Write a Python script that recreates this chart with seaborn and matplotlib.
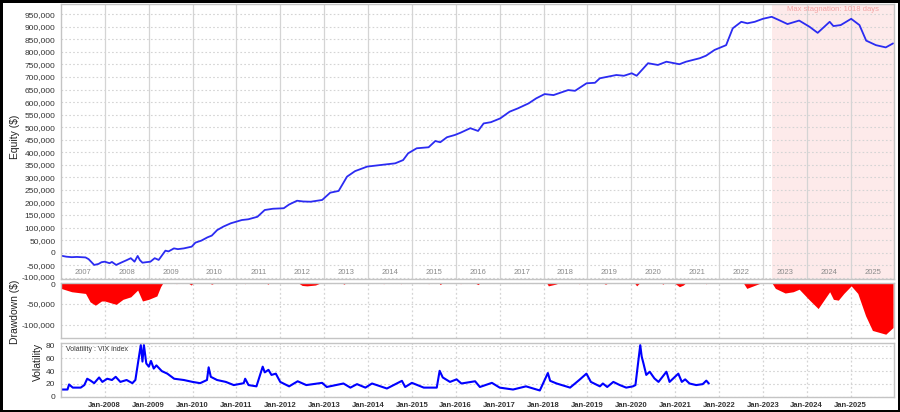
# Equity / drawdown / VIX panel chart
import matplotlib
matplotlib.use('Agg')
import matplotlib.pyplot as plt
import matplotlib.dates as mdates
import matplotlib.transforms as mtransforms
from matplotlib.ticker import FuncFormatter
import pandas as pd
import seaborn as sns

sns.set_style('white')
plt.rcParams['font.family'] = ['Liberation Sans', 'DejaVu Sans']

# ===== Data =====

equity_dates = [
    "2007-01-02", "2007-02-15", "2007-04-01", "2007-05-15", "2007-07-25", "2007-08-20",
    "2007-10-05", "2007-11-10", "2007-12-05", "2008-01-01", "2008-02-10", "2008-03-01",
    "2008-04-05", "2008-05-15", "2008-07-01", "2008-08-05", "2008-09-05", "2008-10-01",
    "2008-10-20", "2008-11-10", "2008-12-10", "2009-01-15", "2009-02-20", "2009-03-25",
    "2009-05-20", "2009-06-15", "2009-07-30", "2009-09-01", "2009-10-20", "2009-12-25",
    "2010-01-25", "2010-03-15", "2010-05-05", "2010-06-10", "2010-07-25", "2010-09-15",
    "2010-11-15", "2011-02-15", "2011-04-10", "2011-06-25", "2011-08-25", "2011-11-01",
    "2012-01-30", "2012-03-15", "2012-05-20", "2012-07-10", "2012-09-10", "2012-12-15",
    "2013-02-20", "2013-05-01", "2013-07-10", "2013-09-15", "2013-12-25", "2014-04-10",
    "2014-08-15", "2014-10-20", "2014-12-01", "2015-02-10", "2015-05-20", "2015-07-15",
    "2015-08-25", "2015-10-20", "2015-12-25", "2016-02-10", "2016-05-01", "2016-07-05",
    "2016-08-20", "2016-10-20", "2017-01-05", "2017-03-25", "2017-06-01", "2017-08-30",
    "2017-11-01", "2018-01-10", "2018-03-25", "2018-07-25", "2018-09-20", "2018-12-25",
    "2019-03-05", "2019-04-15", "2019-08-30", "2019-11-01", "2020-01-05", "2020-02-15",
    "2020-05-20", "2020-08-10", "2020-10-20", "2021-02-05", "2021-04-01", "2021-07-25",
    "2021-09-15", "2021-11-25", "2022-03-01", "2022-04-25", "2022-07-05", "2022-08-25",
    "2022-10-25", "2023-01-01", "2023-03-15", "2023-05-10", "2023-07-25", "2023-10-30",
    "2024-01-25", "2024-04-01", "2024-07-10", "2024-08-10", "2024-10-10", "2025-01-05",
    "2025-03-15", "2025-05-10", "2025-07-30", "2025-10-20", "2025-12-20",
]
equity_values = [
    -12000, -16000, -18000, -17000, -19000, -26000,
    -49000, -45000, -38000, -36000, -42000, -37000,
    -49000, -40000, -30000, -22000, -36000, -13000,
    -30000, -40000, -38000, -36000, -22000, -29000,
    8000, 5000, 17000, 14000, 17000, 24000,
    40000, 48000, 61000, 68000, 90000, 104000,
    117000, 130000, 133000, 143000, 170000, 175000,
    177000, 192000, 207000, 204000, 203000, 210000,
    239000, 246000, 303000, 325000, 343000, 349000,
    356000, 369000, 396000, 416000, 420000, 445000,
    440000, 460000, 469000, 478000, 496000, 485000,
    515000, 520000, 535000, 562000, 575000, 595000,
    615000, 632000, 628000, 648000, 645000, 675000,
    677000, 695000, 708000, 705000, 715000, 705000,
    755000, 748000, 761000, 751000, 761000, 775000,
    785000, 808000, 827000, 894000, 920000, 914000,
    920000, 932000, 940000, 928000, 911000, 925000,
    900000, 876000, 920000, 903000, 907000, 932000,
    907000, 845000, 827000, 818000, 834000,
]

drawdown_dates = [
    "2007-01-02", "2007-04-01", "2007-07-25", "2007-09-01", "2007-10-15", "2007-12-05",
    "2008-01-01", "2008-04-05", "2008-06-01", "2008-08-05", "2008-10-01", "2008-11-10",
    "2009-01-01", "2009-03-10", "2009-04-10", "2009-05-01", "2009-08-01", "2009-08-20",
    "2009-09-10", "2009-11-20", "2009-12-20", "2010-01-10", "2010-05-10", "2010-06-10",
    "2010-07-10", "2011-03-01", "2011-03-15", "2011-04-01", "2011-09-01", "2011-09-20",
    "2011-10-10", "2012-05-25", "2012-07-01", "2012-08-10", "2012-10-20", "2012-12-10",
    "2013-05-20", "2013-06-15", "2013-07-05", "2014-04-20", "2014-05-10", "2014-06-01",
    "2014-09-10", "2014-10-01", "2014-10-20", "2015-05-01", "2015-05-20", "2015-06-10",
    "2015-08-10", "2015-08-25", "2015-09-15", "2016-01-20", "2016-02-10", "2016-03-01",
    "2016-06-01", "2016-07-05", "2016-07-25", "2018-01-25", "2018-02-10", "2018-04-10",
    "2018-05-20", "2018-10-01", "2018-10-25", "2018-11-20", "2019-05-01", "2019-06-01",
    "2019-07-01", "2020-01-25", "2020-02-15", "2020-03-15", "2020-09-01", "2020-09-20",
    "2020-10-10", "2020-12-20", "2021-02-05", "2021-03-10", "2021-04-01", "2021-08-20",
    "2021-09-15", "2021-10-10", "2022-07-20", "2022-08-20", "2022-09-25", "2022-11-01",
    "2022-12-25", "2023-03-15", "2023-04-15", "2023-07-05", "2023-09-10", "2023-10-30",
    "2024-01-25", "2024-04-05", "2024-07-10", "2024-08-10", "2024-09-20", "2024-11-05",
    "2025-01-05", "2025-03-01", "2025-05-05", "2025-07-01", "2025-10-20", "2025-12-20",
]
drawdown_values = [
    -14000, -22000, -26000, -46000, -54000, -44000,
    -44000, -52000, -40000, -34000, -18000, -44000,
    -40000, -32000, -10000, 0, 0, -3000,
    0, 0, -6000, 0, 0, -4000,
    0, 0, -3000, 0, 0, -4000,
    0, 0, -7000, -8000, -6000, 0,
    0, -4000, 0, 0, -3000, 0,
    0, -3000, 0, 0, -3000, 0,
    0, -5000, 0, 0, -3000, 0,
    0, -5000, 0, 0, -8000, -4000,
    0, 0, -3000, 0, 0, -4000,
    0, 0, -8000, 0, 0, -4000,
    0, 0, -10000, -6000, 0, 0,
    -3000, 0, 0, -14000, -10000, -6000,
    0, 0, -14000, -25000, -22000, -16000,
    -42000, -62000, -22000, -40000, -42000, -26000,
    -8000, -26000, -79000, -114000, -123000, -107000,
]

vix_dates = [
    "2007-01-03", "2007-02-25", "2007-03-10", "2007-04-10", "2007-06-15", "2007-07-15",
    "2007-08-08", "2007-09-05", "2007-10-05", "2007-11-15", "2007-12-12", "2008-01-22",
    "2008-03-01", "2008-04-01", "2008-05-10", "2008-07-01", "2008-08-18", "2008-09-12",
    "2008-10-12", "2008-10-27", "2008-11-10", "2008-11-22", "2008-12-12", "2009-01-02",
    "2009-01-20", "2009-02-12", "2009-03-06", "2009-04-20", "2009-06-05", "2009-08-01",
    "2009-10-20", "2010-01-01", "2010-03-05", "2010-05-01", "2010-05-15", "2010-06-02",
    "2010-07-24", "2010-10-05", "2010-12-10", "2011-03-03", "2011-03-15", "2011-04-12",
    "2011-06-17", "2011-08-08", "2011-08-25", "2011-09-25", "2011-10-20", "2011-11-25",
    "2012-01-01", "2012-03-15", "2012-05-25", "2012-08-05", "2012-12-15", "2013-01-22",
    "2013-06-10", "2013-08-07", "2013-10-01", "2013-12-10", "2014-02-03", "2014-06-07",
    "2014-10-10", "2014-11-06", "2015-01-01", "2015-04-10", "2015-07-27", "2015-08-20",
    "2015-09-15", "2015-11-14", "2016-01-08", "2016-02-17", "2016-06-10", "2016-07-20",
    "2016-10-28", "2017-01-01", "2017-04-22", "2017-08-08", "2017-12-01", "2018-02-06",
    "2018-02-25", "2018-04-20", "2018-08-10", "2018-10-25", "2018-12-24", "2019-01-30",
    "2019-04-15", "2019-05-10", "2019-06-15", "2019-08-05", "2019-09-28", "2019-11-20",
    "2020-01-15", "2020-02-05", "2020-03-16", "2020-03-28", "2020-04-12", "2020-05-05",
    "2020-06-03", "2020-07-12", "2020-08-15", "2020-10-20", "2020-11-15", "2021-01-27",
    "2021-02-25", "2021-03-25", "2021-04-30", "2021-06-25", "2021-08-18", "2021-09-17",
    "2021-10-08",
]
vix_values = [
    11, 11, 19, 14, 14, 18,
    28, 25, 21, 30, 23, 28,
    26, 31, 23, 26, 21, 26,
    63, 81, 55, 81, 52, 47,
    56, 44, 49, 40, 36, 28,
    26, 23, 21, 26, 46, 31,
    26, 23, 18, 21, 28, 18,
    16, 47, 38, 42, 34, 36,
    23, 16, 24, 18, 21.5, 15,
    20.5, 14, 19.5, 14, 20.5, 12.6,
    24.7, 15, 21.5, 14, 14, 40.5,
    30, 23, 27, 20.5, 24, 15,
    21.5, 14, 11, 16, 9.5, 37,
    24.7, 20.5, 14, 26, 36, 23,
    16, 20.5, 15, 23, 18, 14,
    16, 18, 81, 63, 52, 34,
    39, 28.5, 23, 39, 23, 36,
    23, 27, 20.5, 18, 19.5, 25,
    20.5,
]

year_labels = [str(y) for y in range(2007, 2026)]
stagnation_start = "2023-03-15"
stagnation_text = "Max stagnation: 1018 days"

eq = pd.DataFrame({'date': pd.to_datetime(equity_dates), 'equity': equity_values})
dd = pd.DataFrame({'date': pd.to_datetime(drawdown_dates), 'drawdown': drawdown_values})
vix = pd.DataFrame({'date': pd.to_datetime(vix_dates), 'vix': vix_values})

x_start = pd.Timestamp("2007-01-02")
x_end = pd.Timestamp("2025-12-28")

# ===== Figure =====
fig = plt.figure(figsize=(9, 4.12), dpi=100)
fig.patch.set_edgecolor('black')
fig.patch.set_linewidth(2.5)

left, width = 0.0678, 0.9256
ax_eq = fig.add_axes([left, 0.3228, width, 0.6675])
ax_dd = fig.add_axes([left, 0.1796, width, 0.1347], sharex=ax_eq)
ax_vol = fig.add_axes([left, 0.0376, width, 0.1310], sharex=ax_eq)

grid_col = '#d4d4d4'
spine_col = '#c4c4c4'
tick_col = '#333333'
comma = FuncFormatter(lambda v, _: f"{v:,.0f}")


def style_axes(ax, vgrid_style):
    for s in ax.spines.values():
        s.set_color(spine_col)
        s.set_linewidth(1)
    ax.grid(axis='y', linestyle=(0, (1.5, 2)), color=grid_col, linewidth=0.8)
    ax.grid(axis='x', linestyle=vgrid_style, color=grid_col, linewidth=0.9)
    ax.tick_params(axis='y', labelsize=6, colors=tick_col, length=2, width=0.6,
                   pad=2, color='#999999')
    ax.set_xlabel('')
    ax.set_ylabel('')
    ax.set_axisbelow(True)


def nudge_label(ax, index, dy_pts):
    # shift one y tick label up/down a little so neighbours don't collide
    lab = ax.get_yticklabels()[index]
    off = mtransforms.ScaledTranslation(0, dy_pts / 72, fig.dpi_scale_trans)
    lab.set_transform(lab.get_transform() + off)


# equity
ax_eq.axvspan(pd.Timestamp(stagnation_start), x_end, color='#fdeaea', zorder=0, linewidth=0)
sns.lineplot(data=eq, x='date', y='equity', ax=ax_eq, color='#2b2bf2', linewidth=1.3)
ax_eq.set_ylim(-105000, 991000)
ax_eq.set_yticks(range(-100000, 950001, 50000))
ax_eq.yaxis.set_major_formatter(comma)
style_axes(ax_eq, '-')
for lab in year_labels:
    mid = pd.Timestamp(f"{lab}-07-02")
    ax_eq.text(mid, -78000, lab, ha='center', va='center', fontsize=5.5, color='#8a8a8a')
stag_mid = pd.Timestamp(stagnation_start) + (x_end - pd.Timestamp(stagnation_start)) / 2
ax_eq.text(stag_mid, 970000, stagnation_text, ha='center', va='center',
           fontsize=5.5, color='#f4a3a3')

# drawdown
ax_dd.fill_between(dd['date'], dd['drawdown'], 0, color='#ff0000', linewidth=0)
ax_dd.set_ylim(-132000, 0)
ax_dd.set_yticks([0, -50000, -100000])
ax_dd.yaxis.set_major_formatter(comma)
style_axes(ax_dd, (0, (1.5, 2)))

# volatility
sns.lineplot(data=vix, x='date', y='vix', ax=ax_vol, color='#0000ff', linewidth=1.5)
ax_vol.set_ylim(0, 85)
ax_vol.set_yticks([0, 20, 40, 60, 80])
style_axes(ax_vol, (0, (1.5, 2)))
ax_vol.text(0.006, 0.87, 'Volatility : VIX index', transform=ax_vol.transAxes,
            ha='left', va='center', fontsize=5, color='#333333')

ax_vol.set_xlim(x_start, x_end)
ax_vol.xaxis.set_major_locator(mdates.YearLocator(1))
ax_vol.xaxis.set_major_formatter(mdates.DateFormatter('%b-%Y'))
ax_vol.tick_params(axis='x', labelsize=5.5, colors=tick_col, length=0, pad=4)
for lab in ax_vol.get_xticklabels():
    lab.set_fontweight('bold')
for ax in (ax_eq, ax_dd):
    ax.tick_params(axis='x', labelbottom=False, length=0)

# keep "-100,000" (equity) and "0" (drawdown) apart
nudge_label(ax_eq, 0, 1.2)
nudge_label(ax_dd, 0, -1.5)

fig.text(15 / 900, 1 - 137 / 412, 'Equity ($)', rotation=90, ha='center', va='center',
         fontsize=7.5, color='#222222')
fig.text(15 / 900, 1 - 312 / 412, 'Drawdown ($)', rotation=90, ha='center', va='center',
         fontsize=7.5, color='#222222')
fig.text(38 / 900, 1 - 362 / 412, 'Volatility', rotation=90, ha='center', va='center',
         fontsize=7.5, color='#222222')

fig.savefig('out.png', dpi=100)
